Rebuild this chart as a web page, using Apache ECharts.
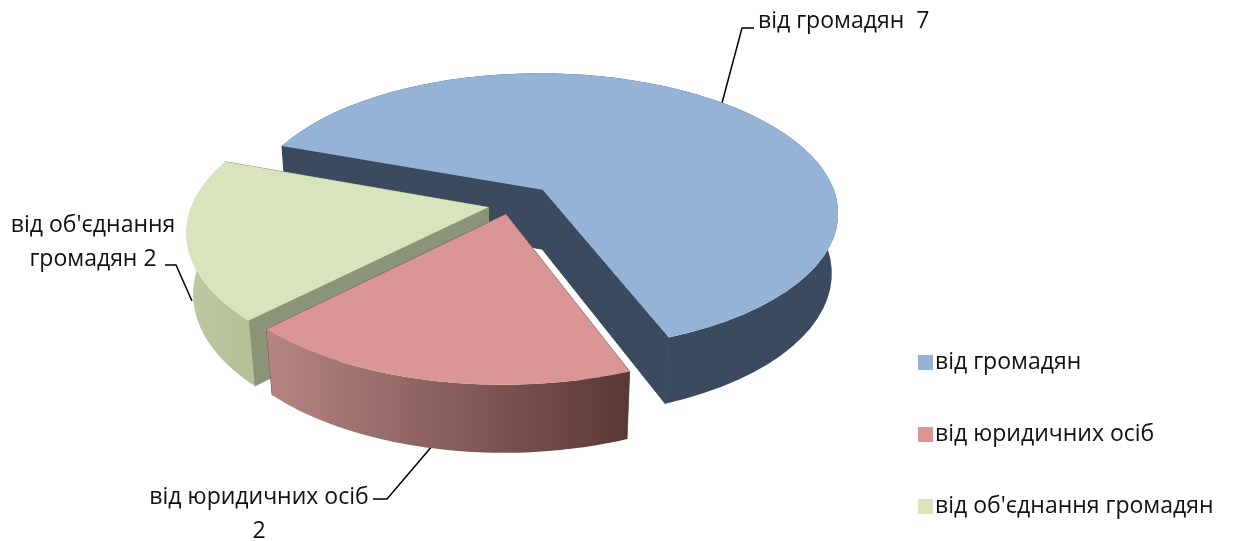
<!DOCTYPE html>
<html>
<head>
<meta charset="utf-8">
<style>
  html, body { margin: 0; background: #fff; }
  #chart { width: 1234px; height: 541px; }
</style>
<script src="https://cdn.jsdelivr.net/npm/echarts@6/dist/echarts.min.js"></script>
</head>
<body>
<div id="chart"></div>
<script>
const categories = ['від громадян', 'від юридичних осіб', "від об'єднання громадян"];
const values = [7, 2, 2];
const topColors = ['#95b3d7', '#d99694', '#d7e4bc'];
const FONT = '"Open Sans", sans-serif';

// 3d view of the pie
const view = { cx: 519, cy: 201, r: 295, tilt: 28, camera: 5.5, height: 0.235, explode: 0.116, firstAngle: -70 };
// small extra shift of each slice on the pie plane
const nudges = [[0, 0], [-0.02, 0.02], [0.01, -0.02]];
const sideColors = [
  ['#3b4a5e', '#3b4a5e'],
  ['#b58583', '#5a3835'],
  ['#bcc8a0', '#b4c096'],
];
const cutColors = ['#3b4a5e', '#7d5655', '#8a9477'];
const total = values.reduce((a, b) => a + b, 0);

function project(x, y, z) {
  const t = view.tilt * Math.PI / 180;
  const up = y * Math.sin(t) + z * Math.cos(t);
  const depth = y * Math.cos(t) - z * Math.sin(t);
  const s = view.camera / (view.camera + depth);
  return [view.cx + view.r * x * s, view.cy - view.r * up * s];
}

function sliceShapes(index) {
  const before = values.slice(0, index).reduce((a, b) => a + b, 0);
  const start = view.firstAngle + before / total * 360;
  const end = start + values[index] / total * 360;
  const mid = (start + end) / 2 * Math.PI / 180;
  const ox = view.explode * Math.sin(mid) + nudges[index][0];
  const oy = view.explode * Math.cos(mid) + nudges[index][1];
  const rim = [];
  for (let a = start; a <= end + 0.01; a += (end - start) / 60) {
    const rad = a * Math.PI / 180;
    rim.push([ox + Math.sin(rad), oy + Math.cos(rad)]);
  }
  const top = rim.map((p) => project(p[0], p[1], 0));
  const low = rim.map((p) => project(p[0], p[1], -view.height));
  const apexTop = project(ox, oy, 0);
  const apexLow = project(ox, oy, -view.height);
  return {
    top: [apexTop].concat(top),
    wall: top.concat(low.slice().reverse()),
    cutA: [apexTop, top[0], low[0], apexLow],
    cutB: [apexTop, top[top.length - 1], low[low.length - 1], apexLow],
  };
}

function renderSlice(index) {
  return function () {
    const s = sliceShapes(index);
    const poly = (points, fill) => ({ type: 'polygon', shape: { points }, style: { fill } });
    // stroke hides the seam between the two cut faces
    const cut = (points) => ({
      type: 'polygon',
      shape: { points },
      style: { fill: cutColors[index], stroke: cutColors[index], lineWidth: 1 },
    });
    return {
      type: 'group',
      children: [
        // cut faces first, the back facing ones end up under wall and top
        cut(s.cutA),
        cut(s.cutB),
        poly(s.wall, new echarts.graphic.LinearGradient(0, 0, 1, 0, [
          { offset: 0, color: sideColors[index][0] },
          { offset: 1, color: sideColors[index][1] },
        ])),
        poly(s.top, topColors[index]),
      ],
    };
  };
}

const labelLayout = [
  { text: categories[0] + '  ' + values[0], x: 758, y: 21, align: 'left', line: [[754, 28], [742, 28], [722, 103]] },
  { text: categories[1] + '\n' + values[1], x: 259, y: 514, align: 'center', line: [[373, 499], [387, 499], [433, 445]] },
  { text: "від об'єднання\nгромадян 2", x: 93, y: 242, align: 'center', line: [[165, 265], [176, 265], [192, 301]] },
];

const myChart = echarts.init(document.getElementById('chart'));
myChart.setOption({
  animation: false,
  color: topColors,
  legend: {
    orient: 'vertical',
    left: 913,
    top: 346,
    itemWidth: 15,
    itemHeight: 15,
    itemGap: 49,
    icon: 'rect',
    textStyle: { fontFamily: FONT, fontSize: 23, color: '#111', padding: [0, 0, 0, -3] },
    data: categories,
  },
  graphic: labelLayout.flatMap((l) => [
    {
      type: 'text', x: l.x, y: l.y,
      style: { text: l.text, fontFamily: FONT, fontSize: 23, lineHeight: 34, fill: '#111', align: l.align, verticalAlign: 'middle' },
    },
    {
      type: 'polyline',
      shape: { points: l.line },
      style: { stroke: '#000', lineWidth: 1.5, fill: null },
    },
  ]),
  // blue sits behind the other two
  series: categories.map((name, i) => ({
    name,
    type: 'custom',
    coordinateSystem: 'none',
    silent: true,
    z: [1, 3, 2][i],
    data: [values[i]],
    renderItem: renderSlice(i),
  })),
});
</script>
</body>
</html>
